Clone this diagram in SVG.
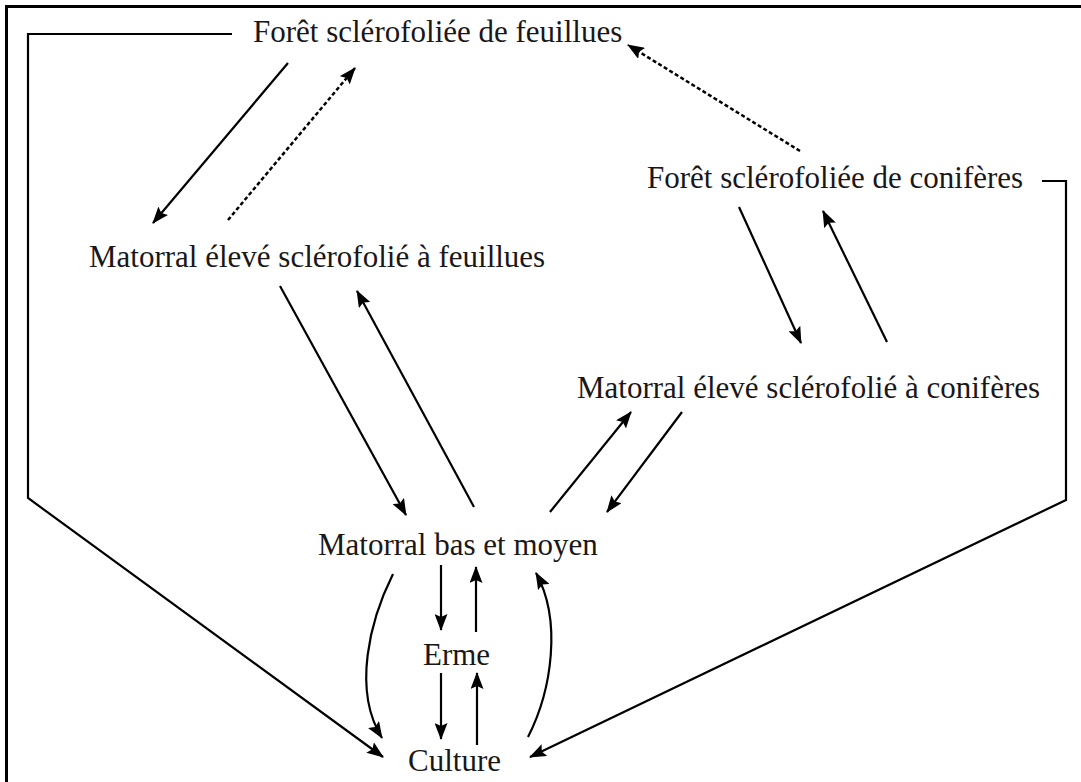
<svg xmlns="http://www.w3.org/2000/svg" width="1081" height="782" viewBox="0 0 1081 782">
<style>
text{font-family:"Liberation Serif","Times New Roman",serif;font-size:31px;fill:#1a1718}
.c{fill:none;stroke:#000;stroke-width:2.2}
.d{fill:none;stroke:#000;stroke-width:2.5;stroke-dasharray:4 2.5}
.b{fill:none;stroke:#000;stroke-width:3}
</style>
<defs>
<marker id="ah" markerUnits="userSpaceOnUse" markerWidth="17" markerHeight="13" refX="16" refY="6.5" orient="auto">
<path d="M0,0 L17,6.5 L0,13 L3,6.5 z" fill="#000"/>
</marker>
</defs>
<rect x="0" y="0" width="1081" height="782" fill="#fff"/>
<path class="b" d="M6.5,782 V6.5 H1081"/>
<g id="n1"><text x="253" y="42">Forêt sclérofoliée de feuillues</text></g>
<g id="n2"><text x="647" y="188">Forêt sclérofoliée de conifères</text></g>
<g id="n3"><text x="89" y="267">Matorral élevé sclérofolié à feuillues</text></g>
<g id="n4"><text x="577" y="398">Matorral élevé sclérofolié à conifères</text></g>
<g id="n5"><text x="318" y="555">Matorral bas et moyen</text></g>
<g id="n6"><text x="423" y="665">Erme</text></g>
<g id="n7"><text x="408" y="771">Culture</text></g>
<g id="connectors">
<path class="c" d="M232,34 H28 V498 L383,757" marker-end="url(#ah)"/>
<path class="c" d="M1042,181 H1066 V500 L530,757" marker-end="url(#ah)"/>
<path class="c" d="M288,63 L153,223" marker-end="url(#ah)"/>
<path class="d" d="M228,220 L355,68" marker-end="url(#ah)"/>
<path class="d" d="M800,151 L628,45" marker-end="url(#ah)"/>
<path class="c" d="M739,207 L801,343" marker-end="url(#ah)"/>
<path class="c" d="M887,342 L823,211" marker-end="url(#ah)"/>
<path class="c" d="M280,286 L406,515" marker-end="url(#ah)"/>
<path class="c" d="M474,507 L357,291" marker-end="url(#ah)"/>
<path class="c" d="M550,512 L631,412" marker-end="url(#ah)"/>
<path class="c" d="M682,412 L607,512" marker-end="url(#ah)"/>
<path class="c" d="M441,565 V630" marker-end="url(#ah)"/>
<path class="c" d="M476,632 V567" marker-end="url(#ah)"/>
<path class="c" d="M441,673 V739" marker-end="url(#ah)"/>
<path class="c" d="M477,745 V673" marker-end="url(#ah)"/>
<path class="c" d="M393,574 C370,620 352,690 382,738" marker-end="url(#ah)"/>
<path class="c" d="M528,737 C552,690 562,620 536,573" marker-end="url(#ah)"/>
</g>
</svg>
